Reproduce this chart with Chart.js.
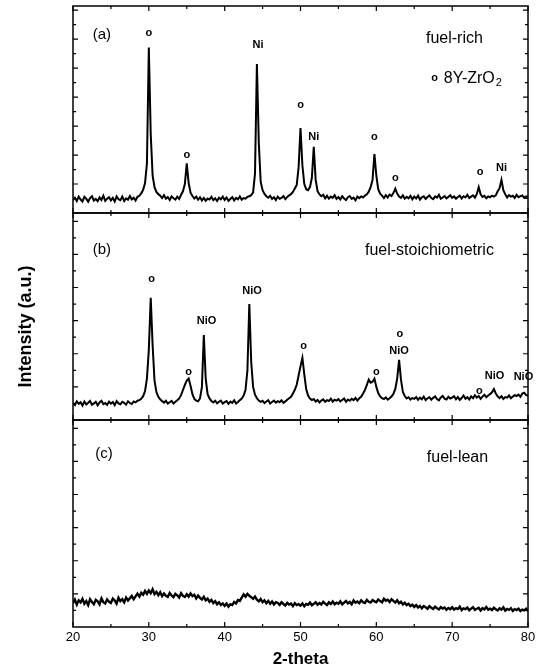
<!DOCTYPE html>
<html>
<head>
<meta charset="utf-8">
<script src="https://cdn.jsdelivr.net/npm/chart.js"></script>
<style>
  html, body { margin: 0; padding: 0; background: #fff; }
  canvas { display: block; }
</style>
</head>
<body>
<canvas id="xrd" width="548" height="672"></canvas>
<script>
// 2-theta sampling of the scans (degrees)
const THETA_START = 20;
const THETA_STEP = 0.25;

// relative intensity, % of panel height, every 0.25 deg (20 ... 80)
const fuelRich = [
  6.2, 7.4, 5.8, 7.9, 6.5, 5.6, 7.8, 6.9, 5.4, 7.2, 8.1, 6.0, 6.8, 5.7, 7.5, 6.3, 8.4, 5.9, 6.9, 7.6,
  6.1, 7.3, 5.5, 8.0, 6.7, 6.2, 7.9, 5.8, 7.1, 6.4, 8.2, 6.6, 7.4, 6.0, 7.8, 8.3, 9.5, 11.2, 14.5, 24.0,
  80.0, 38.0, 18.0, 12.5, 10.2, 9.1, 8.4, 7.2, 8.6, 6.9, 7.7, 6.3, 8.0, 7.1, 6.5, 7.9, 6.8, 8.8, 10.5, 14.0,
  24.0, 14.5, 9.8, 8.2, 7.0, 7.9, 6.4, 7.6, 6.1, 7.3, 5.9, 7.0, 6.5, 7.8, 6.2, 7.1, 5.8, 7.4, 6.6, 7.9,
  6.3, 7.5, 5.9, 6.8, 7.7, 6.1, 7.3, 6.6, 8.0, 6.4, 7.2, 6.9, 7.8, 8.1, 8.6, 10.0, 19.0, 72.0, 34.0, 15.0,
  11.0, 9.2, 8.1, 7.4, 8.3, 6.8, 7.6, 6.2, 7.9, 6.9, 7.3, 8.2, 6.7, 7.8, 8.5, 9.1, 10.2, 11.8, 13.5, 22.0,
  41.0, 23.0, 14.0, 11.5, 11.0, 12.5, 17.0, 32.0, 16.0, 10.5, 9.0, 8.1, 8.8, 7.1, 8.3, 6.9, 7.9, 7.3, 8.6, 6.8,
  7.7, 6.5, 8.1, 7.0, 6.3, 7.6, 8.2, 6.8, 7.4, 6.1, 7.9, 7.2, 8.0, 7.5, 8.4, 9.0, 10.3, 12.5, 16.0, 28.5,
  18.0, 11.5, 9.3, 8.4, 7.2, 8.6, 7.5, 8.9, 8.2, 9.6, 11.8, 9.4, 8.0, 7.3, 8.5, 6.9, 7.8, 7.1, 8.3, 6.6,
  7.9, 7.0, 8.4, 6.5, 7.6, 8.1, 6.8, 7.7, 8.5, 7.2, 6.7, 8.0, 7.4, 8.8, 6.9, 7.5, 8.2, 7.1, 7.8, 8.6,
  7.3, 8.0, 6.9, 7.7, 8.4, 7.0, 8.1, 7.5, 8.8, 7.2, 7.9, 8.5, 7.4, 9.2, 12.5, 9.0, 7.8, 8.3, 7.1, 8.0,
  7.6, 8.4, 7.9, 8.5, 10.5, 12.0, 16.0, 11.0, 9.0, 7.5, 8.6, 7.9, 8.3, 7.2, 8.8, 7.6, 8.1, 8.5, 7.3, 8.0,
  7.7
];

const fuelStoich = [
  8.1, 7.2, 9.0, 7.8, 8.6, 7.0, 8.9, 7.5, 8.3, 9.2, 7.4, 8.0, 8.8, 7.1, 8.5, 9.3, 7.7, 8.2, 7.3, 8.9,
  7.9, 8.7, 7.2, 9.1, 8.0, 7.6, 8.8, 8.3, 7.4, 9.0, 8.2, 7.7, 8.9, 8.5, 9.3, 9.6, 10.2, 11.5, 14.0, 20.0,
  34.0, 59.0, 36.0, 19.0, 13.5, 11.2, 10.0, 9.1, 8.4, 9.3, 7.9, 8.6, 9.2, 8.0, 8.8, 9.5, 10.4, 12.0, 14.5, 17.0,
  19.0, 20.0, 16.5, 12.5, 10.2, 9.4, 9.0, 10.4, 16.0, 41.0, 20.0, 12.5, 10.4, 9.2, 8.5, 9.3, 8.1, 8.8, 9.4, 7.9,
  8.6, 9.1, 7.8, 8.9, 8.3, 9.5, 8.0, 8.7, 9.6, 10.4, 11.8, 14.5, 24.0, 56.0, 28.0, 16.0, 12.2, 10.5, 9.4, 8.8,
  9.3, 8.2, 8.9, 9.6, 8.0, 8.7, 9.4, 8.4, 9.1, 8.6, 9.5, 8.3, 9.0, 9.8, 10.5, 11.2, 12.8, 14.6, 17.0, 21.5,
  26.0, 30.0, 22.0, 15.0, 11.8, 10.4, 9.6, 10.1, 8.9, 9.7, 8.5, 9.4, 10.0, 8.8, 9.6, 9.2, 10.3, 8.9, 9.8, 9.4,
  10.1, 9.0, 9.7, 10.4, 8.8, 9.9, 9.3, 10.2, 9.6, 10.7, 9.4, 10.5, 11.2, 12.8, 14.5, 17.0, 19.5, 18.0, 18.5, 20.0,
  16.0, 13.0, 11.4, 10.6, 10.1, 10.9, 9.8, 10.5, 11.3, 12.6, 15.0, 20.0, 29.0, 19.5, 13.5, 11.6, 10.4, 11.0, 9.9, 10.6,
  10.2, 11.1, 9.7, 10.8, 10.0, 11.3, 9.6, 10.5, 11.0, 9.8, 10.7, 11.4, 10.1, 9.5, 10.9, 11.6, 10.3, 9.9, 11.2, 10.4,
  10.8, 11.5, 10.0, 11.1, 9.7, 10.6, 11.8, 10.3, 11.0, 9.9, 11.4, 10.5, 12.0, 10.8, 11.6, 10.2, 11.3, 12.2, 11.0, 11.8,
  12.5, 13.4, 15.0, 12.8, 11.4, 10.6, 11.5, 10.2, 11.1, 10.8, 11.9, 10.5, 11.3, 12.0, 11.6, 12.3, 11.2, 12.8, 13.2, 12.0,
  11.8
];

const fuelLean = [
  11.5, 13.2, 10.8, 12.9, 11.9, 13.6, 11.2, 12.5, 10.6, 13.4, 12.1, 11.0, 13.1, 12.4, 10.9, 13.8, 12.0, 11.4, 13.3, 12.2,
  11.6, 13.7, 12.8, 11.3, 14.1, 12.5, 13.4, 11.9, 14.2, 12.8, 13.9, 15.0, 13.4, 14.8, 16.1, 14.7, 16.5, 15.6, 17.4, 16.0,
  17.6, 16.3, 18.2, 15.9, 17.0, 15.4, 16.8, 14.9, 16.2, 15.1, 14.6, 16.4, 15.2, 14.4, 16.0, 15.3, 14.2, 16.3, 15.0, 14.5,
  15.8, 14.7, 16.2, 14.9, 15.6, 13.8, 15.2, 14.1, 13.3, 14.6, 12.9, 13.7, 12.2, 13.1, 11.6, 12.5, 11.0, 11.9, 10.6, 11.4,
  10.2, 11.3, 9.8, 11.0, 10.6, 12.1, 11.4, 13.0, 12.6, 14.2, 15.8, 14.6, 16.0, 15.1, 14.4, 13.6, 14.7, 13.2, 12.4, 13.5,
  12.0, 12.9, 11.5, 12.6, 11.2, 12.3, 10.9, 12.0, 11.6, 10.7, 11.9, 11.1, 10.4, 11.7, 10.8, 11.3, 10.1, 11.5, 10.6, 11.0,
  10.3, 11.4, 10.0, 11.1, 10.7, 11.8, 10.5, 11.2, 12.0, 10.8, 11.6, 10.9, 12.2, 11.3, 10.6, 11.9, 11.1, 12.3, 11.0, 11.7,
  11.2, 12.4, 10.9, 11.8, 12.6, 11.4, 12.1, 11.0, 12.8, 11.7, 12.3, 11.5, 12.9, 12.0, 11.6, 13.1, 12.2, 11.8, 13.0, 12.4,
  12.0, 13.3, 12.5, 11.9, 13.6, 12.7, 13.2, 12.1, 13.4, 12.6, 11.8, 12.9, 11.5, 12.2, 10.9, 11.7, 10.6, 11.2, 10.1, 10.8,
  9.7, 10.6, 9.4, 10.2, 9.0, 10.1, 9.5, 8.8, 10.0, 9.3, 8.7, 9.8, 9.1, 8.5, 9.6, 8.9, 9.4, 8.3, 9.2, 8.6,
  9.5, 8.4, 9.1, 8.7, 9.8, 8.2, 9.0, 8.6, 9.4, 8.1, 8.9, 9.6, 8.3, 8.8, 9.3, 8.0, 9.1, 8.5, 9.7, 8.4,
  8.9, 8.2, 9.3, 8.6, 8.0, 9.0, 8.4, 9.5, 7.9, 8.7, 8.3, 9.1, 7.8, 8.6, 8.2, 8.9, 7.7, 8.4, 8.0, 8.8,
  7.6
];

// x axis ticks
const xTickValues = [20, 30, 40, 50, 60, 70, 80];
const xMinorValues = [25, 35, 45, 55, 65, 75];

// peak labels: [text, 2-theta, intensity %]
const peaksA = [
  ['o', 30.0, 87], ['o', 35.0, 28], ['Ni', 44.4, 81], ['o', 50.0, 52], ['Ni', 51.75, 36.5],
  ['o', 59.75, 36.7], ['o', 62.5, 17], ['o', 73.7, 20], ['Ni', 76.5, 21.6]
];
const peaksB = [
  ['o', 30.35, 68], ['o', 35.25, 23.3], ['NiO', 37.6, 47.7], ['NiO', 43.6, 62.3], ['o', 50.4, 35.6],
  ['o', 60.0, 23], ['o', 63.1, 41.6], ['NiO', 63.0, 33.5], ['o', 73.6, 14], ['NiO', 75.6, 21.4],
  ['NiO', 79.4, 21]
];
const peaksC = [];

// panel tags and sample names: [text, 2-theta, intensity %]
const tagsA = [['(a)', 23.8, 86]];
const tagsB = [['(b)', 23.8, 82]];
const tagsC = [['(c)', 24.1, 83.7]];
const namesA = [['fuel-rich', 70.3, 84.4]];
const namesB = [['fuel-stoichiometric', 67.0, 82]];
const namesC = [['fuel-lean', 70.7, 81.9]];

const FONT = "'Liberation Sans', Arial, sans-serif";

function toPoints(values) {
  return values.map((v, i) => ({ x: THETA_START + i * THETA_STEP, y: v }));
}

const panels = [
  { axis: 'ya', values: fuelRich, peaks: peaksA, tags: tagsA, names: namesA, step: 7, line: 2.0 },
  { axis: 'yb', values: fuelStoich, peaks: peaksB, tags: tagsB, names: namesB, step: 8, line: 2.0 },
  { axis: 'yc', values: fuelLean, peaks: peaksC, tags: tagsC, names: namesC, step: 8, line: 2.4 }
];

// frames, inward ticks and text
const xrdDecor = {
  id: 'xrdDecor',
  afterDatasetsDraw(chart) {
    const ctx = chart.ctx;
    const xs = chart.scales.x;
    const left = chart.chartArea.left, right = chart.chartArea.right;
    ctx.save();
    ctx.strokeStyle = '#000';
    ctx.fillStyle = '#000';

    panels.forEach(p => {
      const ys = chart.scales[p.axis];
      const top = ys.top, bottom = ys.bottom;

      ctx.lineWidth = 1.5;
      ctx.strokeRect(left, top, right - left, bottom - top);

      ctx.lineWidth = 1.2;
      ctx.beginPath();
      xTickValues.forEach(v => {
        const px = xs.getPixelForValue(v);
        ctx.moveTo(px, bottom); ctx.lineTo(px, bottom - 5);
        ctx.moveTo(px, top); ctx.lineTo(px, top + 5);
      });
      xMinorValues.forEach(v => {
        const px = xs.getPixelForValue(v);
        ctx.moveTo(px, bottom); ctx.lineTo(px, bottom - 3);
        ctx.moveTo(px, top); ctx.lineTo(px, top + 3);
      });
      for (let v = p.step, k = 1; v < ys.max; v += p.step, k++) {
        const py = ys.getPixelForValue(v);
        const len = k % 2 === 0 ? 5 : 3;
        ctx.moveTo(left, py); ctx.lineTo(left + len, py);
        ctx.moveTo(right, py); ctx.lineTo(right - len, py);
      }
      ctx.stroke();

      ctx.textAlign = 'center';
      ctx.textBaseline = 'middle';
      p.peaks.forEach(([txt, th, v]) => {
        ctx.font = 'bold 11px ' + FONT;
        ctx.fillText(txt, xs.getPixelForValue(th), ys.getPixelForValue(v));
      });
      p.tags.forEach(([txt, th, v]) => {
        ctx.font = '15px ' + FONT;
        ctx.fillText(txt, xs.getPixelForValue(th), ys.getPixelForValue(v));
      });
      p.names.forEach(([txt, th, v]) => {
        ctx.font = '16px ' + FONT;
        ctx.fillText(txt, xs.getPixelForValue(th), ys.getPixelForValue(v));
      });
    });

    // phase key in panel (a)
    const ya = chart.scales.ya;
    const ky = ya.getPixelForValue(65);
    ctx.font = 'bold 11px ' + FONT;
    ctx.textAlign = 'center';
    ctx.fillText('o', xs.getPixelForValue(67.7), ky);
    ctx.font = '16px ' + FONT;
    ctx.textAlign = 'left';
    const kx = xs.getPixelForValue(68.9);
    ctx.fillText('8Y-ZrO', kx, ky);
    const w = ctx.measureText('8Y-ZrO').width;
    ctx.font = '11px ' + FONT;
    ctx.fillText('2', kx + w + 1, ky + 5);

    // y axis title
    const yb = chart.scales.yb;
    ctx.font = 'bold 18px ' + FONT;
    ctx.textAlign = 'center';
    ctx.translate(26, (yb.top + yb.bottom) / 2 + 10);
    ctx.rotate(-Math.PI / 2);
    ctx.fillText('Intensity (a.u.)', 0, 0);
    ctx.restore();
  }
};

function yAxis(weight) {
  return {
    type: 'linear',
    position: 'left',
    stack: 'xrd',
    stackWeight: 1,
    weight: weight,
    min: 0,
    max: 100,
    display: false
  };
}

new Chart(document.getElementById('xrd'), {
  type: 'line',
  data: {
    datasets: panels.map(p => ({
      data: toPoints(p.values),
      yAxisID: p.axis,
      borderColor: '#000',
      borderWidth: p.line,
      borderJoinStyle: 'miter',
      pointRadius: 0,
      tension: 0,
      fill: false
    }))
  },
  options: {
    responsive: false,
    animation: false,
    devicePixelRatio: 1,
    layout: { padding: { left: 73, right: 20, top: 6, bottom: 2 } },
    plugins: { legend: { display: false }, tooltip: { enabled: false } },
    scales: {
      x: {
        type: 'linear',
        min: 20,
        max: 80,
        grid: { display: false, drawTicks: false },
        border: { display: false },
        ticks: {
          stepSize: 10,
          padding: 3,
          color: '#000',
          font: { family: FONT, size: 13 }
        },
        title: {
          display: true,
          text: '2-theta',
          color: '#000',
          font: { family: FONT, size: 17, weight: 'bold' },
          padding: { top: 1, bottom: 0 }
        }
      },
      ya: yAxis(3),
      yb: yAxis(2),
      yc: yAxis(1)
    }
  },
  plugins: [xrdDecor]
});
</script>
</body>
</html>
